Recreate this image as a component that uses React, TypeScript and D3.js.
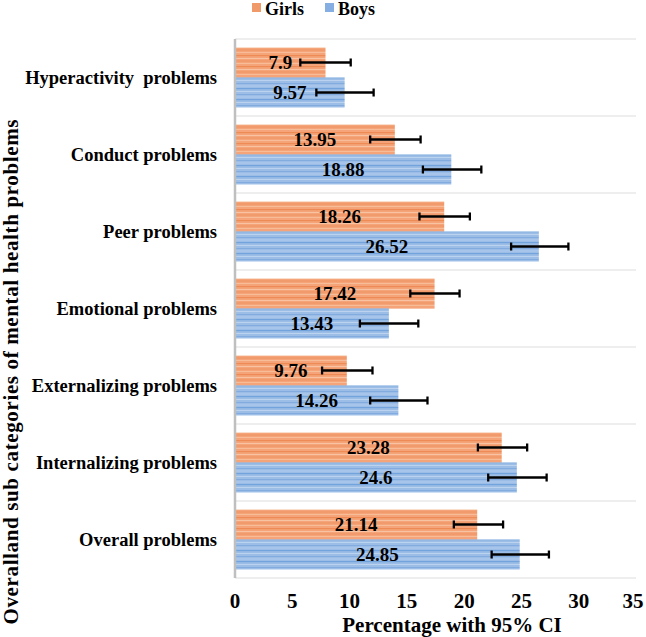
import { useEffect } from "react";
import * as d3 from "d3";

const categories = [
  "Hyperactivity  problems",
  "Conduct problems",
  "Peer problems",
  "Emotional problems",
  "Externalizing problems",
  "Internalizing problems",
  "Overall problems",
];
const girls = [7.9, 13.95, 18.26, 17.42, 9.76, 23.28, 21.14];
const boys = [9.57, 18.88, 26.52, 13.43, 14.26, 24.6, 24.85];
const girlsLow = [5.7, 11.8, 16.1, 15.3, 7.6, 21.2, 19.1];
const girlsHigh = [10.1, 16.2, 20.5, 19.6, 12.0, 25.5, 23.4];
const boysLow = [7.1, 16.4, 24.1, 10.9, 11.8, 22.1, 22.4];
const boysHigh = [12.1, 21.5, 29.1, 16.0, 16.8, 27.2, 27.4];
const xTicks = [0, 5, 10, 15, 20, 25, 30, 35];

const W = 646;
const H = 637;
const font = "'Liberation Serif', 'Times New Roman', serif";

export default function App() {
  useEffect(() => {
    document.body.style.margin = "0";
  }, []);

  const x = d3.scaleLinear().domain([0, 35]).range([235, 636]);
  const y = d3.scaleBand<string>().domain(categories).range([39, 578]);
  const bw = y.bandwidth();
  const barH = bw * 0.39;
  const off = bw * 0.11;

  const series = [
    { key: "girls", vals: girls, lo: girlsLow, hi: girlsHigh, pat: "url(#orangeStripe)", dy: off },
    { key: "boys", vals: boys, lo: boysLow, hi: boysHigh, pat: "url(#blueStripe)", dy: off + barH },
  ];

  return (
    <svg width={W} height={H} style={{ display: "block", fontFamily: font }}>
      <defs>
        <pattern id="orangeStripe" width="8" height="11" patternUnits="userSpaceOnUse">
          <rect width="8" height="11" fill="#F4A478" />
          <rect y="0" width="8" height="1.2" fill="#EE8A55" />
          <rect y="3" width="8" height="1" fill="#F8C3A2" />
          <rect y="5.5" width="8" height="1" fill="#EF9260" />
          <rect y="8" width="8" height="1" fill="#F7BC98" />
        </pattern>
        <pattern id="blueStripe" width="8" height="11" patternUnits="userSpaceOnUse">
          <rect width="8" height="11" fill="#9BBDE6" />
          <rect y="0" width="8" height="1.2" fill="#72A3DC" />
          <rect y="3" width="8" height="1" fill="#BCD3EF" />
          <rect y="6" width="8" height="1" fill="#82ACE0" />
          <rect y="8.5" width="8" height="1" fill="#B4CEEE" />
        </pattern>
      </defs>

      {/* legend */}
      <rect x={252} y={3} width={9} height={9} fill="#F09A6A" />
      <text x={265} y={14.5} fontSize={18} fontWeight="bold">Girls</text>
      <rect x={325} y={3} width={9} height={9} fill="#85AFE2" />
      <text x={338} y={14.5} fontSize={18} fontWeight="bold">Boys</text>

      {/* category separators */}
      {categories.map((c) => (
        <line key={"s" + c} x1={x(0)} x2={x(35)} y1={y(c)!} y2={y(c)!} stroke="#DDDDDD" strokeWidth={1} />
      ))}
      <line x1={x(0)} x2={x(35)} y1={578} y2={578} stroke="#DDDDDD" strokeWidth={1} />

      {/* bars */}
      {series.map((s) =>
        categories.map((c, i) => (
          <rect
            key={s.key + c}
            x={x(0)}
            y={y(c)! + s.dy}
            width={x(s.vals[i]) - x(0)}
            height={barH}
            fill={s.pat}
          />
        ))
      )}

      {/* value labels */}
      {series.map((s) =>
        categories.map((c, i) => (
          <text
            key={"t" + s.key + c}
            x={(x(0) + x(s.vals[i])) / 2}
            y={y(c)! + s.dy + barH / 2 + 6.5}
            textAnchor="middle"
            fontSize={19}
            fontWeight="bold"
          >
            {s.vals[i]}
          </text>
        ))
      )}

      {/* error bars */}
      {series.map((s) =>
        categories.map((c, i) => {
          const cy = y(c)! + s.dy + barH / 2;
          return (
            <g key={"e" + s.key + c} stroke="#000" strokeWidth={2.3}>
              <line x1={x(s.lo[i])} x2={x(s.hi[i])} y1={cy} y2={cy} />
              <line x1={x(s.lo[i])} x2={x(s.lo[i])} y1={cy - 4} y2={cy + 4} />
              <line x1={x(s.hi[i])} x2={x(s.hi[i])} y1={cy - 4} y2={cy + 4} />
            </g>
          );
        })
      )}

      {/* vertical axis line */}
      <line x1={x(0)} x2={x(0)} y1={39} y2={578} stroke="#BFBFBF" strokeWidth={2.5} />

      {/* category labels */}
      {categories.map((c) => (
        <text
          key={"c" + c}
          x={217}
          y={y(c)! + bw / 2 + 6.5}
          textAnchor="end"
          fontSize={18.5}
          fontWeight="bold"
          style={{ whiteSpace: "pre" }}
        >
          {c}
        </text>
      ))}

      {/* x ticks */}
      {xTicks.map((t) => (
        <text key={"x" + t} x={x(t) - (t === 35 ? 3 : 0)} y={608} textAnchor="middle" fontSize={21} fontWeight="bold">
          {t}
        </text>
      ))}
      <text x={452} y={632} textAnchor="middle" fontSize={21} fontWeight="bold">
        Percentage with 95% CI
      </text>

      {/* y title */}
      <text
        transform="translate(18,372) rotate(-90)"
        textAnchor="middle"
        fontSize={21}
        fontWeight="bold"
        textLength={505}
        lengthAdjust="spacing"
      >
        Overalland sub categories of mental health problems
      </text>
    </svg>
  );
}
